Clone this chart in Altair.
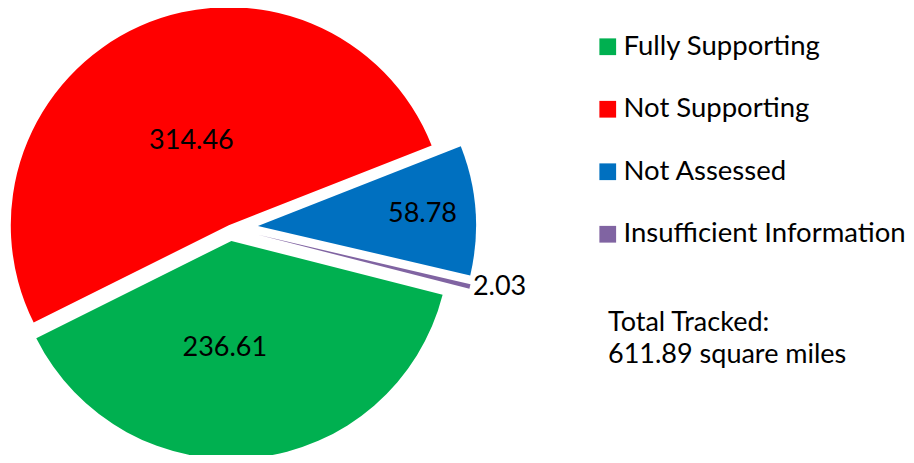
import math
import altair as alt
import pandas as pd

# ---- data ----
categories = ["Fully Supporting", "Not Supporting", "Not Assessed", "Insufficient Information"]
values = [236.61, 314.46, 58.78, 2.03]
value_labels = ["236.61", "314.46", "58.78", "2.03"]
total_lines = ["Total Tracked:", "611.89 square miles"]

# ---- style ----
colors = ["#00B050", "#FF0000", "#0070C0", "#8064A2"]
explode = [13, 3, 28, 29]            # px each slice is pulled out
label_radius = [107, 92, 165, 247]   # px from slice centre to label centre
label_nudge_deg = [9.6, 0, 0, -1.5]
START_DEG = 104.3
CX, CY, R = 222, 220, 218
FONT = "Lato"
FS = 27
LEGEND_FS = 27.5

df = pd.DataFrame({
    "category": categories,
    "value": values,
    "label": value_labels,
    "order": list(range(len(categories))),
    "explode": explode,
    "lr": label_radius,
    "nudge": label_nudge_deg,
})

start = math.radians(START_DEG)

base = (
    alt.Chart(df)
    .transform_joinaggregate(total="sum(value)")
    .transform_window(cum="sum(value)", sort=[alt.SortField("order")], frame=[None, 0])
    .transform_calculate(
        t0=f"{start} + 2*PI*(datum.cum - datum.value)/datum.total",
        t1=f"{start} + 2*PI*datum.cum/datum.total",
    )
    .transform_calculate(mid="(datum.t0 + datum.t1)/2")
    .transform_calculate(
        px=f"{CX} + datum.explode*sin(datum.mid)",
        py=f"{CY} - datum.explode*cos(datum.mid)",
        la="datum.mid + datum.nudge*PI/180",
    )
    .transform_calculate(
        lx="datum.px + datum.lr*sin(datum.la)",
        ly="datum.py - datum.lr*cos(datum.la)",
    )
)

arcs = base.mark_arc(outerRadius=R, stroke=None).encode(
    theta=alt.Theta("t0:Q", scale=None),
    theta2="t1:Q",
    x=alt.X("px:Q", scale=None),
    y=alt.Y("py:Q", scale=None),
    color=alt.Color(
        "category:N",
        scale=alt.Scale(domain=categories, range=colors),
        legend=alt.Legend(
            orient="none",
            legendX=586,
            legendY=25,
            title=None,
            symbolType="square",
            symbolSize=280,
            symbolStrokeWidth=0,
            labelFont=FONT,
            labelFontSize=LEGEND_FS,
            labelColor="#000000",
            labelOffset=2,
            rowPadding=33.5,
            padding=0,
            labelLimit=400,
        ),
    ),
    order=alt.Order("order:Q"),
)

labels = base.mark_text(font=FONT, fontSize=FS, color="#000000", align="center", baseline="middle").encode(
    x=alt.X("lx:Q", scale=None),
    y=alt.Y("ly:Q", scale=None),
    text="label:N",
)

tdf = pd.DataFrame({"line": total_lines, "i": list(range(len(total_lines)))})
total = (
    alt.Chart(tdf)
    .transform_calculate(ty="315 + 32*datum.i")
    .mark_text(font=FONT, fontSize=FS, color="#000000", align="left", baseline="middle")
    .encode(x=alt.value(600), y=alt.Y("ty:Q", scale=None), text="line:N")
)

chart = (
    alt.layer(arcs, labels, total)
    .properties(width=898, height=447, padding=0, autosize=alt.AutoSizeParams(type="none"))
    .configure_view(stroke=None)
)

chart.save("out.html", embed_options={"renderer": "svg", "actions": False})
